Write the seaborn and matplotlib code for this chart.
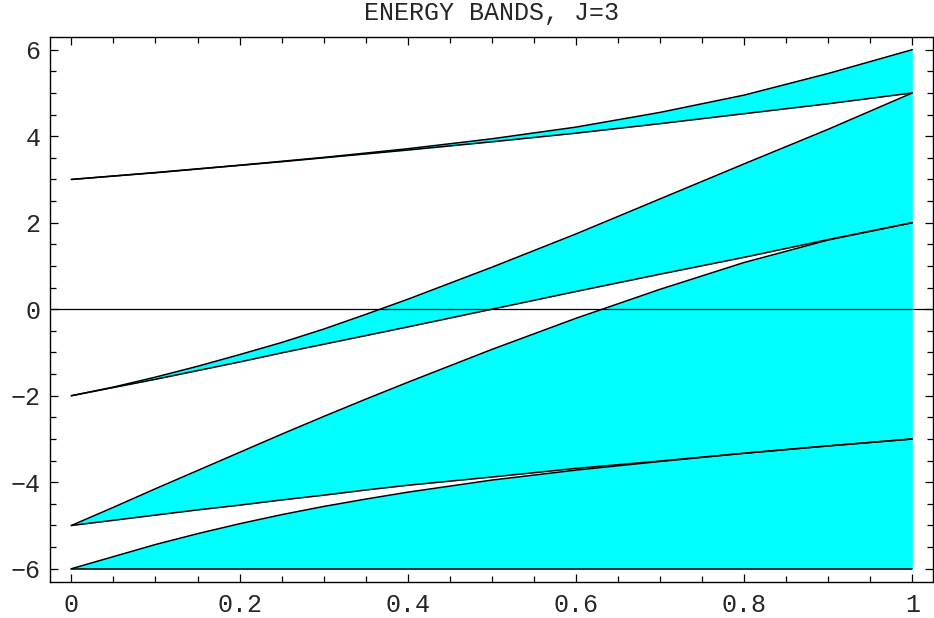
import numpy as np
import pandas as pd
import matplotlib
matplotlib.use("Agg")
import matplotlib.pyplot as plt
from matplotlib.ticker import MultipleLocator, FixedLocator, FuncFormatter
import seaborn as sns

# ---- data ----
x = [0.0, 0.05, 0.1, 0.15, 0.2, 0.25, 0.3, 0.35, 0.4, 0.5, 0.6, 0.7, 0.8, 0.9, 1.0]

band4_top = [3.0, 3.08, 3.16, 3.245, 3.33, 3.42, 3.51, 3.61, 3.71, 3.94, 4.21, 4.55, 4.95, 5.45, 6.0]
band4_bot = [3.0, 3.078, 3.155, 3.24, 3.325, 3.41, 3.50, 3.59, 3.68, 3.87, 4.07, 4.29, 4.52, 4.75, 5.0]

band3_top = [-2.0, -1.80, -1.57, -1.32, -1.05, -0.77, -0.46, -0.12, 0.23, 0.97, 1.74, 2.55, 3.36, 4.16, 5.0]
band3_bot = [-2.0, -1.81, -1.62, -1.42, -1.22, -1.01, -0.81, -0.61, -0.41, 0.0, 0.41, 0.81, 1.2, 1.61, 2.0]

band2_top = [-5.0, -4.58, -4.15, -3.73, -3.31, -2.89, -2.48, -2.08, -1.69, -0.93, -0.21, 0.46, 1.08, 1.6, 2.0]
band2_bot = [-5.0, -4.88, -4.76, -4.64, -4.53, -4.41, -4.30, -4.18, -4.07, -3.88, -3.68, -3.51, -3.33, -3.16, -3.0]

band1_top = [-6.0, -5.72, -5.44, -5.19, -4.96, -4.75, -4.56, -4.39, -4.23, -3.95, -3.72, -3.52, -3.33, -3.16, -3.0]
band1_bot = [-6.0, -6.0, -6.0, -6.0, -6.0, -6.0, -6.0, -6.0, -6.0, -6.0, -6.0, -6.0, -6.0, -6.0, -6.0]

bands = [
    ("band1", band1_bot, band1_top),
    ("band2", band2_bot, band2_top),
    ("band3", band3_bot, band3_top),
    ("band4", band4_bot, band4_top),
]

x_ticks = [0, 0.2, 0.4, 0.6, 0.8, 1]
y_ticks = [-6, -4, -2, 0, 2, 4, 6]
title = "ENERGY BANDS, J=3"

# ---- style ----
sns.set_style("ticks")
plt.rcParams["font.family"] = ["Liberation Mono", "DejaVu Sans"]
plt.rcParams["axes.linewidth"] = 1.0

fig = plt.figure(figsize=(9.34, 6.18), dpi=100)
ax = fig.add_axes([0.0539, 0.0587, 0.9454, 0.8819])

fill_color = "#00FFFF"
for name, lo, hi in bands:
    ax.fill_between(x, lo, hi, color=fill_color, linewidth=0, zorder=1)

# edges as long-form data through seaborn
rows = []
for name, lo, hi in bands:
    for xi, v in zip(x, lo):
        rows.append({"x": xi, "E": v, "curve": name + "_lo"})
    for xi, v in zip(x, hi):
        rows.append({"x": xi, "E": v, "curve": name + "_hi"})
df = pd.DataFrame(rows)
sns.lineplot(data=df, x="x", y="E", units="curve", estimator=None,
             color="black", linewidth=1.1, ax=ax, legend=False, zorder=3,
             sort=False)

ax.axhline(0, color="black", linewidth=0.9, zorder=2)

ax.set_xlim(-0.025, 1.025)
ax.set_ylim(-6.3, 6.3)
ax.xaxis.set_major_locator(FixedLocator(x_ticks))
ax.yaxis.set_major_locator(FixedLocator(y_ticks))
ax.xaxis.set_minor_locator(MultipleLocator(0.05))
ax.yaxis.set_minor_locator(MultipleLocator(0.5))
ax.xaxis.set_major_formatter(FuncFormatter(lambda v, p: "%g" % v))
ax.yaxis.set_major_formatter(FuncFormatter(lambda v, p: ("\u2212%g" % -v) if v < 0 else "%g" % v))

ax.tick_params(which="both", direction="in", top=True, right=True,
               color="black", width=0.9)
ax.tick_params(which="major", length=6, labelsize=18)
ax.tick_params(which="minor", length=4)
ax.tick_params(axis="y", which="major", pad=7)
ax.tick_params(axis="x", which="major", pad=8)
for s in ax.spines.values():
    s.set_visible(True)
    s.set_color("black")

ax.set_xlabel("")
ax.set_ylabel("")
ax.set_title(title, fontsize=18, pad=12)

fig.savefig("out.png", dpi=100)
